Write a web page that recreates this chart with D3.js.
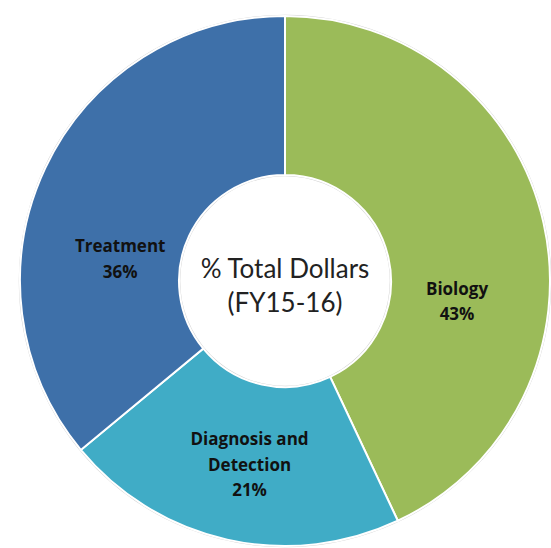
<!DOCTYPE html>
<html><head><meta charset="utf-8">
<script src="https://cdn.jsdelivr.net/npm/d3@7"></script>
<style>html,body{margin:0;padding:0;background:#fff;}</style>
</head><body>
<svg id="chart" width="551" height="548"></svg>
<script>
const categories = ["Biology", "Diagnosis and Detection", "Treatment"];
const values = [43, 21, 36];
const labelLines = [["Biology", "43%"], ["Diagnosis and", "Detection", "21%"], ["Treatment", "36%"]];
const centerTitle = ["% Total Dollars", "(FY15-16)"];

const colors = ["#9BBB59", "#40ACC6", "#3E70A9"];
// label nudges from the ring centroid (px)
const labelNudge = [[-9, 61], [5, 3], [3, 57]];

const svg = d3.select("#chart");
const cx = 285, cy = 281, R = 265, r = 106;
const g = svg.append("g").attr("transform", `translate(${cx},${cy})`);

const pie = d3.pie().sort(null).value(d => d)(values);
const arc = d3.arc().innerRadius(r).outerRadius(R);
const color = d3.scaleOrdinal().domain(categories).range(colors);

// faint outline
g.append("circle").attr("r", R + 0.5).attr("fill", "none").attr("stroke", "#d0d0d0").attr("stroke-width", 1.5);
g.append("circle").attr("r", r - 0.5).attr("fill", "none").attr("stroke", "#d0d0d0").attr("stroke-width", 1.5);

g.selectAll("path.slice").data(pie).join("path")
  .attr("class", "slice")
  .attr("d", arc)
  .attr("fill", (d, i) => color(categories[i]))
  .attr("stroke", "#fff").attr("stroke-width", 2);

const labelArc = d3.arc().innerRadius((R + r) / 2).outerRadius((R + r) / 2);
const lh = 25.5;
pie.forEach((d, i) => {
  const [x, y] = labelArc.centroid(d);
  const lines = labelLines[i];
  const t = g.append("text")
    .attr("text-anchor", "middle")
    .attr("font-family", "'Open Sans', sans-serif")
    .attr("font-weight", "bold")
    .attr("font-size", 17)
    .attr("fill", "#111");
  lines.forEach((ln, j) => {
    t.append("tspan")
      .attr("x", x + labelNudge[i][0])
      .attr("y", y + labelNudge[i][1] + (j - (lines.length - 1) / 2) * lh)
      .attr("dy", "0.35em")
      .text(ln);
  });
});

const ct = g.append("text").attr("text-anchor", "middle")
  .attr("font-family", "Lato, 'Open Sans', sans-serif")
  .attr("font-size", 26).attr("fill", "#222");
centerTitle.forEach((ln, j) => {
  ct.append("tspan").attr("x", 0).attr("y", -12 + j * 34).attr("dy", "0.35em").text(ln);
});
</script>
</body></html>
